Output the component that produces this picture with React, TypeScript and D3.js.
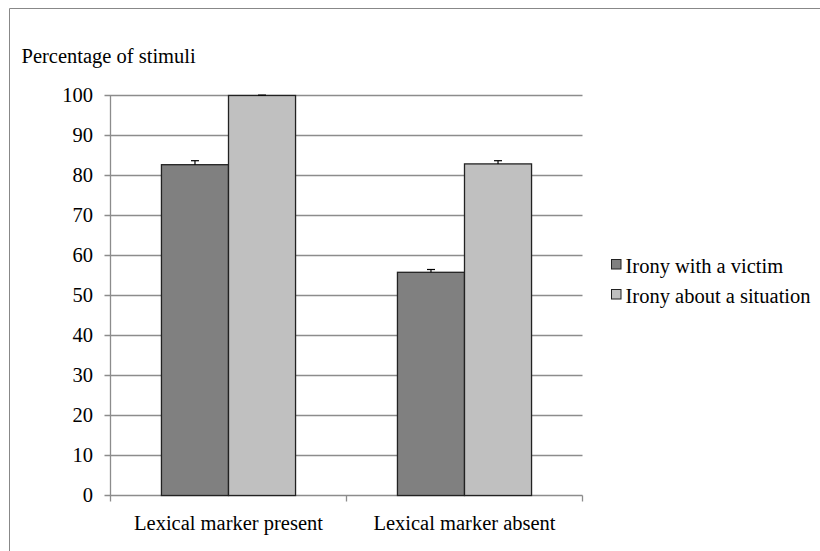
import React from "react";
import * as d3 from "d3";

const categories = ["Lexical marker present", "Lexical marker absent"];
const seriesNames = ["Irony with a victim", "Irony about a situation"];
const victimValues = [82.7, 55.8];
const situationValues = [100, 82.9];
const victimErrors = [1.0, 0.7];
const situationErrors = [0.1, 0.8];
const yTicks = [0, 10, 20, 30, 40, 50, 60, 70, 80, 90, 100];
const colors = ["#808080", "#C0C0C0"];

const W = 820;
const H = 551;
const plot = { left: 110.5, right: 582.5, top: 95.5, bottom: 495.5 };
const FS = 20.5;
const FONT = "'Liberation Serif', 'Times New Roman', serif";

export default function App() {
  const x = d3.scaleBand().domain(categories).range([plot.left, plot.right]).paddingInner(0).paddingOuter(0);
  const inner = d3.scaleBand().domain(seriesNames).range([0, x.bandwidth()]).paddingInner(0).paddingOuter(0.76);
  const y = d3.scaleLinear().domain([0, 100]).range([plot.bottom, plot.top]);
  const series = [
    { name: seriesNames[0], values: victimValues, errors: victimErrors, color: colors[0] },
    { name: seriesNames[1], values: situationValues, errors: situationErrors, color: colors[1] },
  ];
  const xTickPos = [plot.left, ...categories.map((c) => (x(c) as number) + x.bandwidth())];

  return (
    <svg width={W} height={H} style={{ position: "absolute", left: 0, top: 0, display: "block", fontFamily: FONT, fontSize: FS }}>
      <rect x={0} y={0} width={W} height={H} fill="#fff" />
      <line x1={9.5} y1={8.5} x2={W} y2={8.5} stroke="#888" strokeWidth={1} />
      <line x1={9.5} y1={8.5} x2={9.5} y2={H} stroke="#888" strokeWidth={1} />

      <text x={21.5} y={62.5} fill="#000">Percentage of stimuli</text>

      {yTicks.map((t) => (
        <g key={t}>
          <line x1={plot.left - 6} x2={plot.right} y1={y(t)} y2={y(t)} stroke="#8c8c8c" strokeWidth={1.3} />
          <text x={93} y={y(t)} dy="0.33em" textAnchor="end" fill="#000">{t}</text>
        </g>
      ))}
      <line x1={plot.left} x2={plot.left} y1={plot.top} y2={plot.bottom} stroke="#8c8c8c" strokeWidth={1.3} />
      {xTickPos.map((p, i) => (
        <line key={i} x1={p} x2={p} y1={plot.bottom} y2={plot.bottom + 6} stroke="#8c8c8c" strokeWidth={1.3} />
      ))}

      {series.map((s) =>
        categories.map((c, i) => {
          const bx = (x(c) as number) + (inner(s.name) as number);
          const bw = inner.bandwidth();
          const top = y(s.values[i]);
          return (
            <rect key={s.name + c} x={bx} y={top} width={bw} height={plot.bottom - top} fill={s.color} stroke="#222" strokeWidth={1.3} />
          );
        })
      )}
      {series.map((s) =>
        categories.map((c, i) => {
          const cx = (x(c) as number) + (inner(s.name) as number) + inner.bandwidth() / 2;
          const y0 = y(s.values[i]);
          const y1 = y(s.values[i] + s.errors[i]);
          return (
            <g key={"e" + s.name + c}>
              <line x1={cx} x2={cx} y1={y0} y2={y1} stroke="#000" strokeWidth={1.2} />
              <line x1={cx - 4} x2={cx + 4} y1={y1} y2={y1} stroke="#000" strokeWidth={1.2} />
            </g>
          );
        })
      )}

      {categories.map((c) => (
        <text key={c} x={(x(c) as number) + x.bandwidth() / 2} y={530} textAnchor="middle" fill="#000">{c}</text>
      ))}

      {series.map((s, i) => (
        <g key={"l" + s.name} transform={`translate(611, ${259 + i * 30})`}>
          <rect x={0.5} y={0.5} width={9.5} height={9.5} fill={s.color} stroke="#222" strokeWidth={1} />
          <text x={14.5} y={14} fill="#000">{s.name}</text>
        </g>
      ))}
    </svg>
  );
}
